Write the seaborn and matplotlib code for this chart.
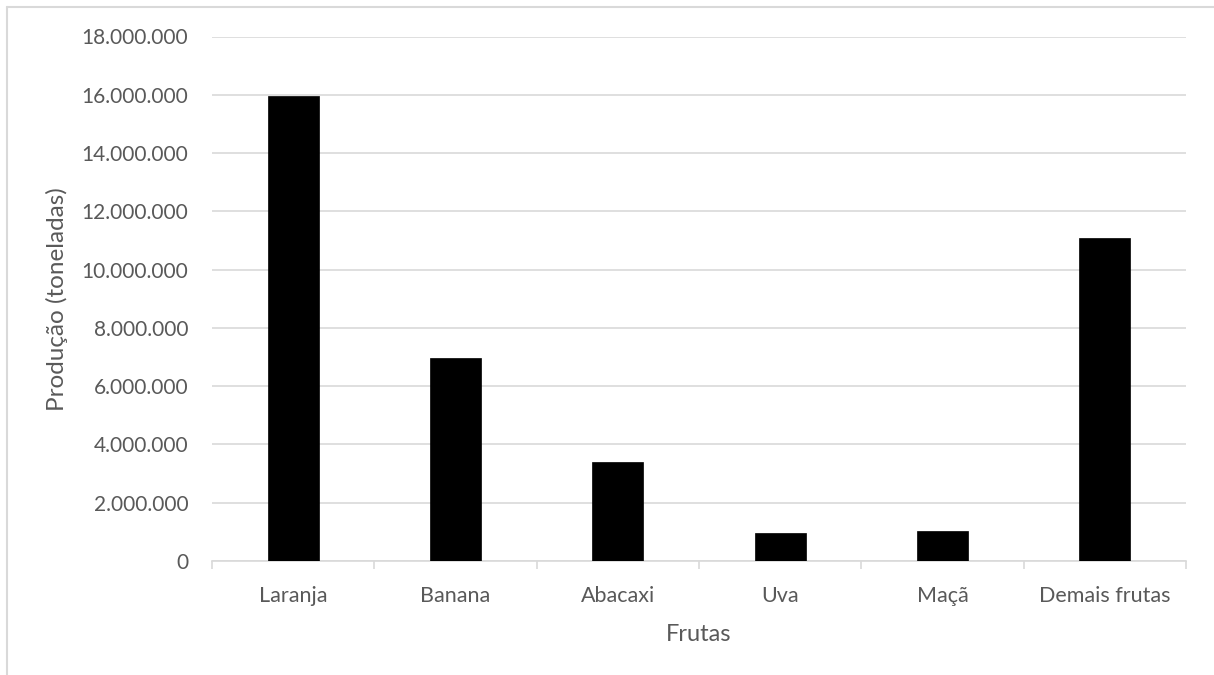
import matplotlib
matplotlib.use("Agg")
import matplotlib.pyplot as plt
from matplotlib.ticker import FuncFormatter, FixedLocator
from matplotlib.lines import Line2D
import seaborn as sns
import pandas as pd

# Fruit production in tonnes
frutas = ["Laranja", "Banana", "Abacaxi", "Uva", "Maçã", "Demais frutas"]
producao = [15950000, 6960000, 3400000, 950000, 1030000, 11070000]
y_ticks = list(range(0, 18000001, 2000000))

df = pd.DataFrame({"Frutas": frutas, "Produção": producao})

sns.set_theme(style="white")
plt.rcParams["font.family"] = ["Lato", "DejaVu Sans"]

text_color = "#595959"
grid_color = "#d9d9d9"

W, H = 1214, 675
fig = plt.figure(figsize=(W / 100, H / 100), dpi=100)
ax = fig.add_axes([212 / W, 1 - 561 / H, (1186 - 212) / W, (561 - 36.5) / H])

sns.barplot(data=df, x="Frutas", y="Produção", color="black",
            width=0.314, edgecolor="black", linewidth=0.5, ax=ax,
            saturation=1, zorder=3)

ax.set_xlim(-0.5, len(frutas) - 0.5)
ax.set_ylim(0, 18000000)
ax.yaxis.set_major_locator(FixedLocator(y_ticks))
ax.yaxis.set_major_formatter(
    FuncFormatter(lambda v, p: f"{int(v):,}".replace(",", ".")))

ax.grid(axis="y", color=grid_color, linewidth=1.2, zorder=0)
ax.grid(axis="x", visible=False)
ax.set_axisbelow(True)

for side in ["top", "right", "left"]:
    ax.spines[side].set_visible(False)
ax.spines["bottom"].set_color(grid_color)
ax.spines["bottom"].set_linewidth(1.2)

# category separators below the axis
ax.set_xticks([i - 0.5 for i in range(len(frutas) + 1)], minor=True)
ax.tick_params(axis="x", which="minor", length=6, width=1.2, color=grid_color,
               direction="out", bottom=True)
ax.tick_params(axis="x", which="major", length=0, pad=18,
               labelsize=15.5, labelcolor=text_color)
ax.tick_params(axis="y", length=0, pad=17, labelsize=15,
               labelcolor=text_color)

ax.set_xlabel("Frutas", fontsize=17, color=text_color, labelpad=13)
ax.set_ylabel("Produção (toneladas)", fontsize=17.5, color=text_color,
              labelpad=10)

# chart frame
fig.add_artist(Line2D([7 / W, 1.0], [1 - 7 / H, 1 - 7 / H],
                      transform=fig.transFigure, color=grid_color, lw=1.5))
fig.add_artist(Line2D([7 / W, 7 / W], [0.0, 1 - 7 / H],
                      transform=fig.transFigure, color=grid_color, lw=1.5))

fig.savefig("out.png", dpi=100, facecolor="white")
